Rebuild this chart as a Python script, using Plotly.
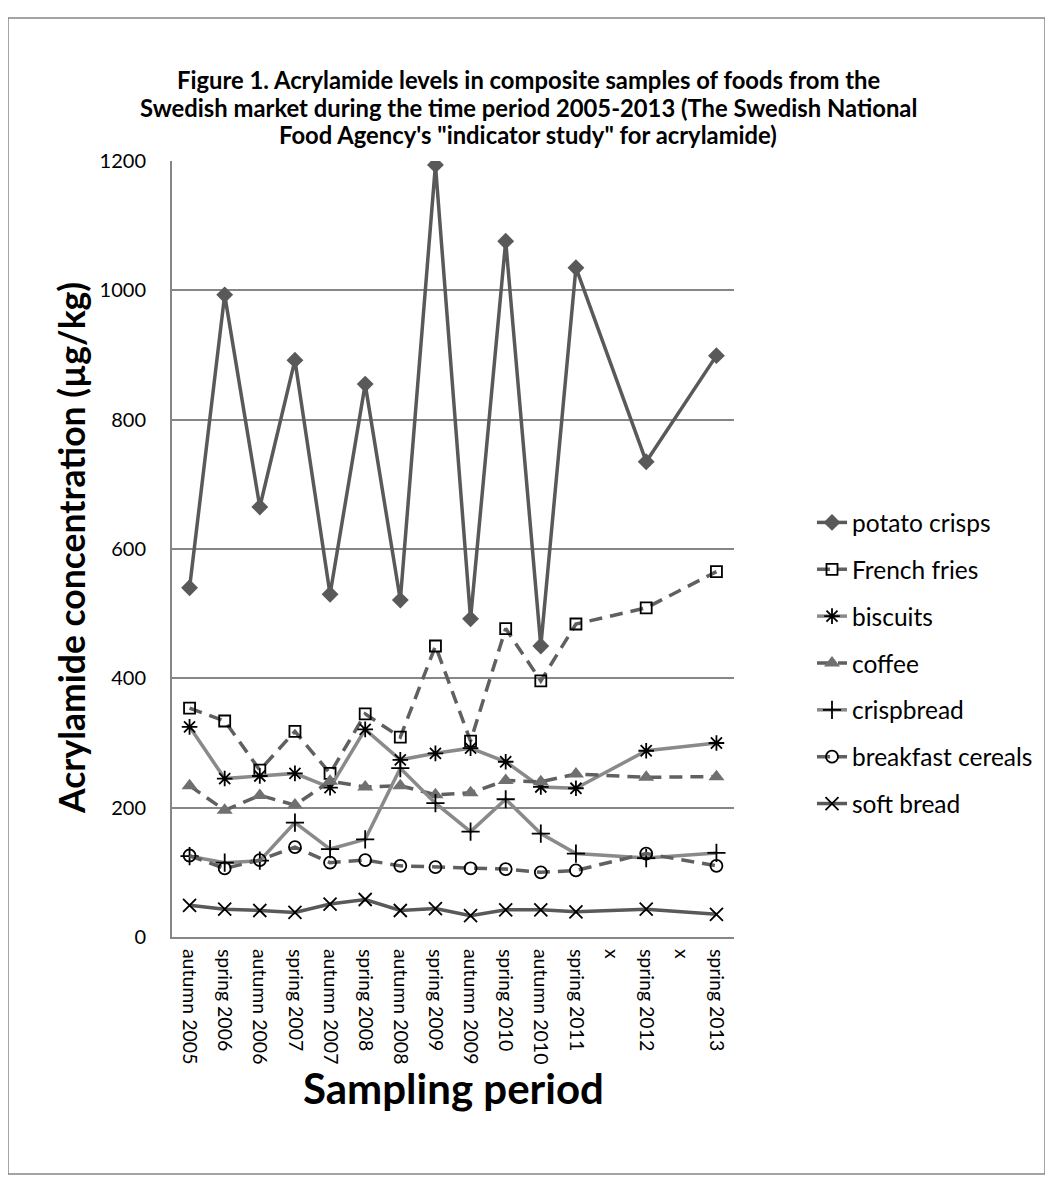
import plotly.graph_objects as go

categories = ["autumn 2005", "spring 2006", "autumn 2006", "spring 2007", "autumn 2007",
              "spring 2008", "autumn 2008", "spring 2009", "autumn 2009", "spring 2010",
              "autumn 2010", "spring 2011", "x", "spring 2012", "x", "spring 2013"]

potato_crisps = [540, 993, 665, 892, 530, 855, 521, 1194, 492, 1076, 450, 1035, None, 735, None, 899]
french_fries = [354, 334, 258, 318, 253, 345, 309, 450, 303, 477, 396, 484, None, 509, None, 565]
biscuits = [325, 245, 249, 253, 231, 321, 274, 284, 292, 271, 232, 230, None, 288, None, 300]
coffee = [234, 196, 219, 204, 241, 232, 234, 220, 223, 242, 240, 252, None, 247, None, 248]
crispbread = [125, 115, 118, 177, 136, 151, 261, 207, 163, 213, 160, 129, None, 122, None, 130]
breakfast_cereals = [126, 106, 119, 139, 115, 119, 110, 108, 106, 105, 100, 103, None, 129, None, 110]
soft_bread = [49, 43, 41, 38, 51, 58, 41, 44, 33, 42, 42, 39, None, 43, None, 35]

title_lines = [
    "Figure 1. Acrylamide levels in composite samples of foods from the",
    "Swedish market during the time period 2005-2013 (The Swedish National",
    "Food Agency's \"indicator study\" for acrylamide)",
]

x_idx = list(range(len(categories)))

FONT = "Lato, 'Open Sans', sans-serif"

# target page geometry (reference pixels); the page body adds an 8px offset
OFF = 8
W, H = 1053, 1191
L, R, T, B = 172, 734, 161, 937


def px(xp):
    return (xp - L) / (R - L)


def py(yp):
    return (B - yp) / (B - T)


dash = "13px,8px"
series = [
    ("potato crisps", potato_crisps, dict(color="#595959", width=3.5, dash="solid"),
     dict(symbol="diamond", size=13, color="#595959")),
    ("French fries", french_fries, dict(color="#606060", width=3.5, dash=dash),
     dict(symbol="square-open", size=11, color="black", line=dict(width=1.8, color="black"))),
    ("biscuits", biscuits, dict(color="#8a8a8a", width=3.5, dash="solid"),
     dict(symbol="asterisk-open", size=13, color="black", line=dict(width=1.8, color="black"))),
    ("coffee", coffee, dict(color="#606060", width=3.5, dash=dash),
     dict(symbol="triangle-up", size=14, color="#707070")),
    ("crispbread", crispbread, dict(color="#8a8a8a", width=3.5, dash="solid"),
     dict(symbol="cross-thin-open", size=13, color="black", line=dict(width=1.8, color="black"))),
    ("breakfast cereals", breakfast_cereals, dict(color="#606060", width=3.5, dash=dash),
     dict(symbol="circle-open", size=12, color="black", line=dict(width=1.8, color="black"))),
    ("soft bread", soft_bread, dict(color="#595959", width=3.5, dash="solid"),
     dict(symbol="x-thin-open", size=13, color="black", line=dict(width=1.8, color="black"))),
]

fig = go.Figure()
for i, (name, vals, line, marker) in enumerate(series):
    fig.add_trace(go.Scatter(
        x=x_idx, y=vals, name=name, mode="lines+markers",
        line=line, marker=marker, connectgaps=True, legendgroup=f"g{i}",
    ))

annotations = []
for k, (txt, yc) in enumerate(zip(title_lines, [80, 108, 135])):
    annotations.append(dict(
        text=txt, xref="paper", yref="paper", x=px(528), y=py(yc),
        xanchor="center", yanchor="middle", showarrow=False,
        font=dict(size=23.8, family=FONT, color="black", weight="bold")))
annotations += [
    dict(text="Acrylamide concentration (µg/kg)", textangle=-90,
         xref="paper", yref="paper", x=px(71), y=py(548), xanchor="center", yanchor="middle",
         showarrow=False, font=dict(size=35.5, family=FONT, color="black", weight="bold")),
    dict(text="Sampling period",
         xref="paper", yref="paper", x=px(453), y=py(1088), xanchor="center", yanchor="middle",
         showarrow=False, font=dict(size=42, family=FONT, color="black", weight="bold")),
]

fig.update_layout(
    width=W - OFF, height=H - OFF,
    margin=dict(l=L - OFF, r=(W - OFF) - (R - OFF), t=T - OFF, b=(H - OFF) - (B - OFF), pad=0),
    paper_bgcolor="white", plot_bgcolor="white",
    font=dict(family=FONT, color="black"),
    showlegend=True,
    legend=dict(
        x=px(812), y=py(500), xanchor="left", yanchor="top",
        font=dict(size=24.5, family=FONT, color="black"),
        tracegroupgap=12, bgcolor="rgba(0,0,0,0)",
    ),
    xaxis=dict(
        range=[-0.5, len(categories) - 0.5],
        tickmode="array", tickvals=x_idx, ticktext=categories,
        tickangle=90, tickfont=dict(size=19.5, family=FONT, color="black"),
        showgrid=False, zeroline=False,
        showline=True, linecolor="#868686", linewidth=2,
        ticks="", ticklabelstandoff=6,
    ),
    yaxis=dict(
        range=[0, 1200], dtick=200, tick0=0,
        tickfont=dict(size=20, family=FONT, color="black"),
        showgrid=True, gridcolor="#868686", gridwidth=1.5,
        zeroline=False, showline=True, linecolor="#868686", linewidth=2,
        ticks="", ticklabelstandoff=20,
    ),
    annotations=annotations,
    shapes=[
        dict(type="rect", xref="paper", yref="paper",
             x0=px(8), x1=px(1045), y0=py(1174), y1=py(18),
             line=dict(color="#868686", width=1.5), fillcolor="rgba(0,0,0,0)", layer="below"),
    ],
)

fig.write_html("out.html")
